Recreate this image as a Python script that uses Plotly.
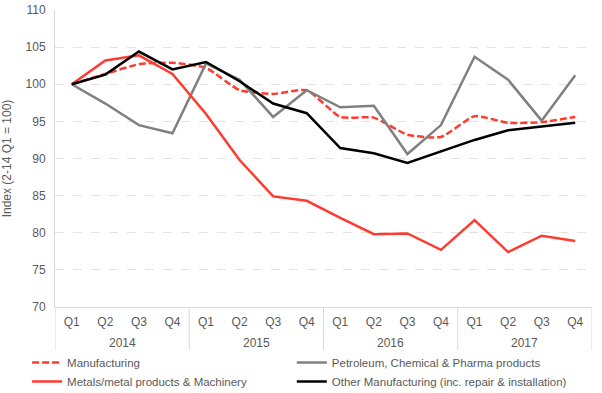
import plotly.graph_objects as go

years = ["2014", "2015", "2016", "2017"]
quarters = ["Q1", "Q2", "Q3", "Q4"] * 4

manufacturing = [100, 101.4, 102.7, 102.9, 102.2, 99.2, 98.7, 99.2,
                 95.6, 95.5, 93.2, 92.9, 95.7, 94.8, 94.9, 95.6]
petroleum = [100, 97.4, 94.5, 93.4, 102.8, 100.6, 95.6, 99.2,
             96.9, 97.1, 90.6, 94.5, 103.7, 100.6, 95.1, 101.2]
metals = [100, 103.2, 103.9, 101.4, 96.0, 89.8, 84.9, 84.3,
          82.0, 79.8, 79.9, 77.7, 81.7, 77.4, 79.6, 78.9]
other = [100, 101.3, 104.4, 102.0, 103.0, 100.4, 97.4, 96.1,
         91.4, 90.7, 89.4, 90.9, 92.5, 93.8, 94.3, 94.8]

names = ["Manufacturing", "Petroleum, Chemical & Pharma products",
         "Metals/metal products & Machinery",
         "Other Manufacturing (inc. repair & installation)"]

RED = "#FF3B30"
GRID = "#d9d9d9"
TXT = "#595959"
x = list(range(len(quarters)))

fig = go.Figure()
fig.add_trace(go.Scatter(x=x, y=manufacturing, name=names[0], mode="lines", legend="legend",
                         line=dict(color=RED, width=2.5, dash="7px,3px",
                                   shape="spline", smoothing=0.5)))
fig.add_trace(go.Scatter(x=x, y=petroleum, name=names[1], mode="lines", legend="legend2",
                         line=dict(color="#808080", width=2.5)))
fig.add_trace(go.Scatter(x=x, y=metals, name=names[2], mode="lines", legend="legend",
                         line=dict(color=RED, width=2.5)))
fig.add_trace(go.Scatter(x=x, y=other, name=names[3], mode="lines", legend="legend2",
                         line=dict(color="#000000", width=2.5)))

# year labels and dividers of the two-level category axis
for i, yr in enumerate(years):
    fig.add_annotation(x=i * 4 + 1.5, y=-0.121, xref="x", yref="paper", text=yr,
                       showarrow=False, yanchor="middle",
                       font=dict(size=12, color=TXT))
for b in range(len(years) + 1):
    xb = b * 4 - 0.5
    fig.add_shape(type="line", xref="x", yref="paper", x0=xb, x1=xb, y0=0, y1=-0.145,
                  line=dict(color=GRID, width=1))

font = "Liberation Sans, Arial, sans-serif"
leg = dict(orientation="v", y=-0.138, xanchor="left", yanchor="top",
           font=dict(size=11.5, color=TXT), itemwidth=30, traceorder="normal",
           bgcolor="rgba(0,0,0,0)")
fig.update_layout(
    width=602, height=393,
    margin=dict(l=55, r=10, t=10, b=86, autoexpand=False),
    paper_bgcolor="white", plot_bgcolor="white",
    font=dict(family=font, size=12, color=TXT),
    showlegend=True,
    legend=dict(leg, x=-0.052),
    legend2=dict(leg, x=0.441),
    xaxis=dict(range=[-0.5, 15.5], tickmode="array", tickvals=x, ticktext=quarters,
               showgrid=False, showline=True, zeroline=False,
               linecolor=GRID, linewidth=1, ticks="", ticklabelstandoff=4,
               tickfont=dict(size=12, color=TXT), automargin=False),
    yaxis=dict(range=[70, 110], dtick=5, showgrid=True, gridcolor="#e3e3e3",
               griddash="dash", gridwidth=1, zeroline=False,
               showline=True, linecolor=GRID, linewidth=1,
               tickfont=dict(size=12, color=TXT), ticks="", ticklabelstandoff=6,
               automargin=False,
               title=dict(text="Index (2-14 Q1 = 100)", font=dict(size=12, color=TXT),
                          standoff=11)),
)

# remove the page's default body margin so the figure fills the window exactly
fig.write_html("out.html", config={"displayModeBar": False},
               post_script="document.body.style.margin='0';")
